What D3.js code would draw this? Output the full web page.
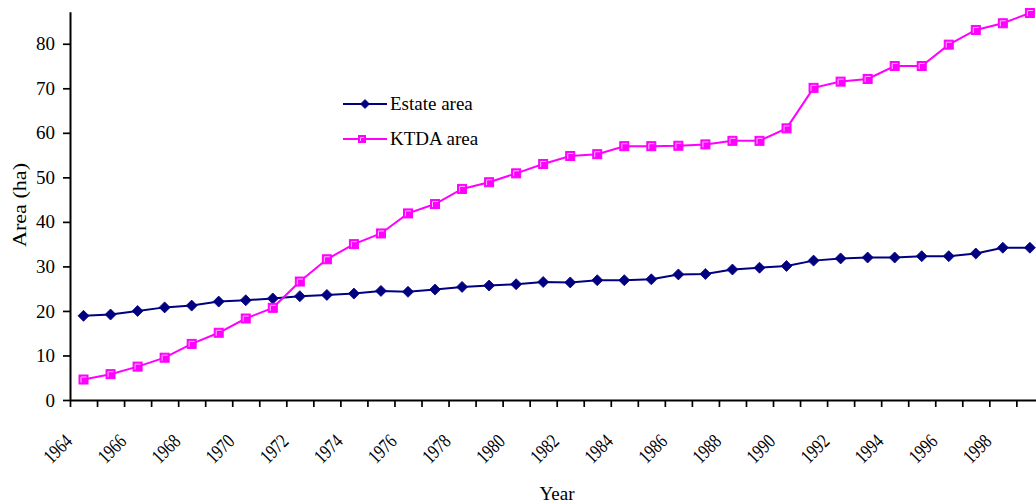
<!DOCTYPE html>
<html><head><meta charset="utf-8">
<script src="https://cdn.jsdelivr.net/npm/d3@7"></script>
<style>
html,body{margin:0;padding:0;background:#fff;}
svg{display:block;}
text{font-family:"Liberation Serif","Times New Roman",serif;fill:#000;}
</style></head>
<body>
<script>
const years = d3.range(1964, 2000);
const estateArea = [18.9,19.2,20.0,20.8,21.2,22.1,22.4,22.8,23.3,23.6,23.9,24.5,24.3,24.8,25.4,25.7,26.0,26.5,26.4,26.9,26.9,27.1,28.2,28.3,29.3,29.7,30.1,31.3,31.8,32.0,32.0,32.3,32.3,32.9,34.2,34.2];
const ktdaArea = [4.6,5.8,7.5,9.5,12.6,15.1,18.3,20.7,26.6,31.6,35.0,37.4,41.9,44.0,47.4,48.9,50.9,53.0,54.8,55.2,57.0,57.0,57.1,57.4,58.2,58.2,61.0,70.1,71.5,72.1,75.0,75.0,79.8,83.1,84.6,86.9];
const yTicks = [0,10,20,30,40,50,60,70,80];
const xLabels = d3.range(1964, 2000, 2);
const seriesNames = ["Estate area","KTDA area"];

(function(){
const W = 1036, H = 504;
const svg = d3.select("body").append("svg").attr("width", W).attr("height", H);

const mLeft = 70, mRight = 1043.4, mTop = 11.7, mBottom = 400;
const x = d3.scaleBand().domain(years).range([mLeft, mRight]).padding(0);
const xEdge = d3.scaleLinear().domain([0, years.length]).range([mLeft, mRight]);
const y = d3.scaleLinear().domain([0, 87.2]).range([mBottom, mTop]);
const cx = d => x(d) + x.bandwidth()/2;

// X axis
const gx = svg.append("g").attr("transform", `translate(0,${mBottom})`)
  .call(d3.axisBottom(xEdge).tickValues(d3.range(years.length+1)).tickSize(7).tickSizeOuter(0).tickFormat(""));
gx.select(".domain").attr("stroke","#000").attr("stroke-width",2);
gx.selectAll(".tick line").attr("stroke","#000").attr("stroke-width",1.7);

gx.selectAll(".xlab").data(xLabels).enter().append("text")
  .attr("class","xlab")
  .attr("text-anchor","end")
  .attr("font-size",20)
  .attr("textLength",31).attr("lengthAdjust","spacingAndGlyphs")
  .attr("transform", d => `translate(${cx(d)-10},42.5) rotate(-45)`)
  .text(d => d);

// Y axis
const gy = svg.append("g").attr("transform", `translate(${mLeft},0)`)
  .call(d3.axisLeft(y).tickValues(yTicks).tickSize(7).tickSizeOuter(0).tickPadding(8));
gy.select(".domain").attr("stroke","#000").attr("stroke-width",2);
gy.selectAll(".tick line").attr("stroke","#000").attr("stroke-width",1.7);
gy.selectAll(".tick text").attr("font-size",19).attr("font-family","Liberation Serif").attr("fill","#000");

// Axis titles
svg.append("text").attr("x",557).attr("y",500).attr("text-anchor","middle").attr("font-size",19).text("Year");
svg.append("text").attr("transform","translate(26,205) rotate(-90)").attr("text-anchor","middle")
  .attr("font-size",19).attr("textLength",84).attr("lengthAdjust","spacingAndGlyphs").text("Area (ha)");

// Lines
const line = d3.line().x((d,i) => cx(years[i])).y(d => y(d));
const navy = "#000080", mag = "#FF00FF";
svg.append("path").datum(estateArea).attr("d", line).attr("fill","none").attr("stroke",navy).attr("stroke-width",2);
svg.append("path").datum(ktdaArea).attr("d", line).attr("fill","none").attr("stroke",mag).attr("stroke-width",2);

function diamond(g, px, py, r){
  g.append("path").attr("d", `M${px},${py-r}L${px+r},${py}L${px},${py+r}L${px-r},${py}Z`).attr("fill",navy).attr("stroke",navy).attr("stroke-width",0.8);
}
function square(g, px, py, s){
  g.append("rect").attr("x",px-s/2).attr("y",py-s/2).attr("width",s).attr("height",s).attr("fill",mag).attr("stroke",mag).attr("stroke-width",1);
  g.append("path").attr("d",`M${px-s/2+2},${py+s/2-1.5}L${px-s/2+2},${py-s/2+2}L${px+s/2-1.5},${py-s/2+2}`)
    .attr("fill","none").attr("stroke","#ffb8ff").attr("stroke-width",1);
}
const gm = svg.append("g");
estateArea.forEach((v,i) => diamond(gm, cx(years[i]), y(v), 5.5));
ktdaArea.forEach((v,i) => square(gm, cx(years[i]), y(v), 9));

// Legend
const lg = svg.append("g");
lg.append("line").attr("x1",343).attr("x2",387).attr("y1",104).attr("y2",104).attr("stroke",navy).attr("stroke-width",2);
diamond(lg, 365, 104, 4.5);
lg.append("text").attr("x",390).attr("y",110).attr("font-size",19).text(seriesNames[0]);
lg.append("line").attr("x1",343).attr("x2",387).attr("y1",139).attr("y2",139).attr("stroke",mag).attr("stroke-width",2);
square(lg, 362, 139, 7);
lg.append("text").attr("x",390).attr("y",145).attr("font-size",19).text(seriesNames[1]);
})();
</script>
</body></html>
